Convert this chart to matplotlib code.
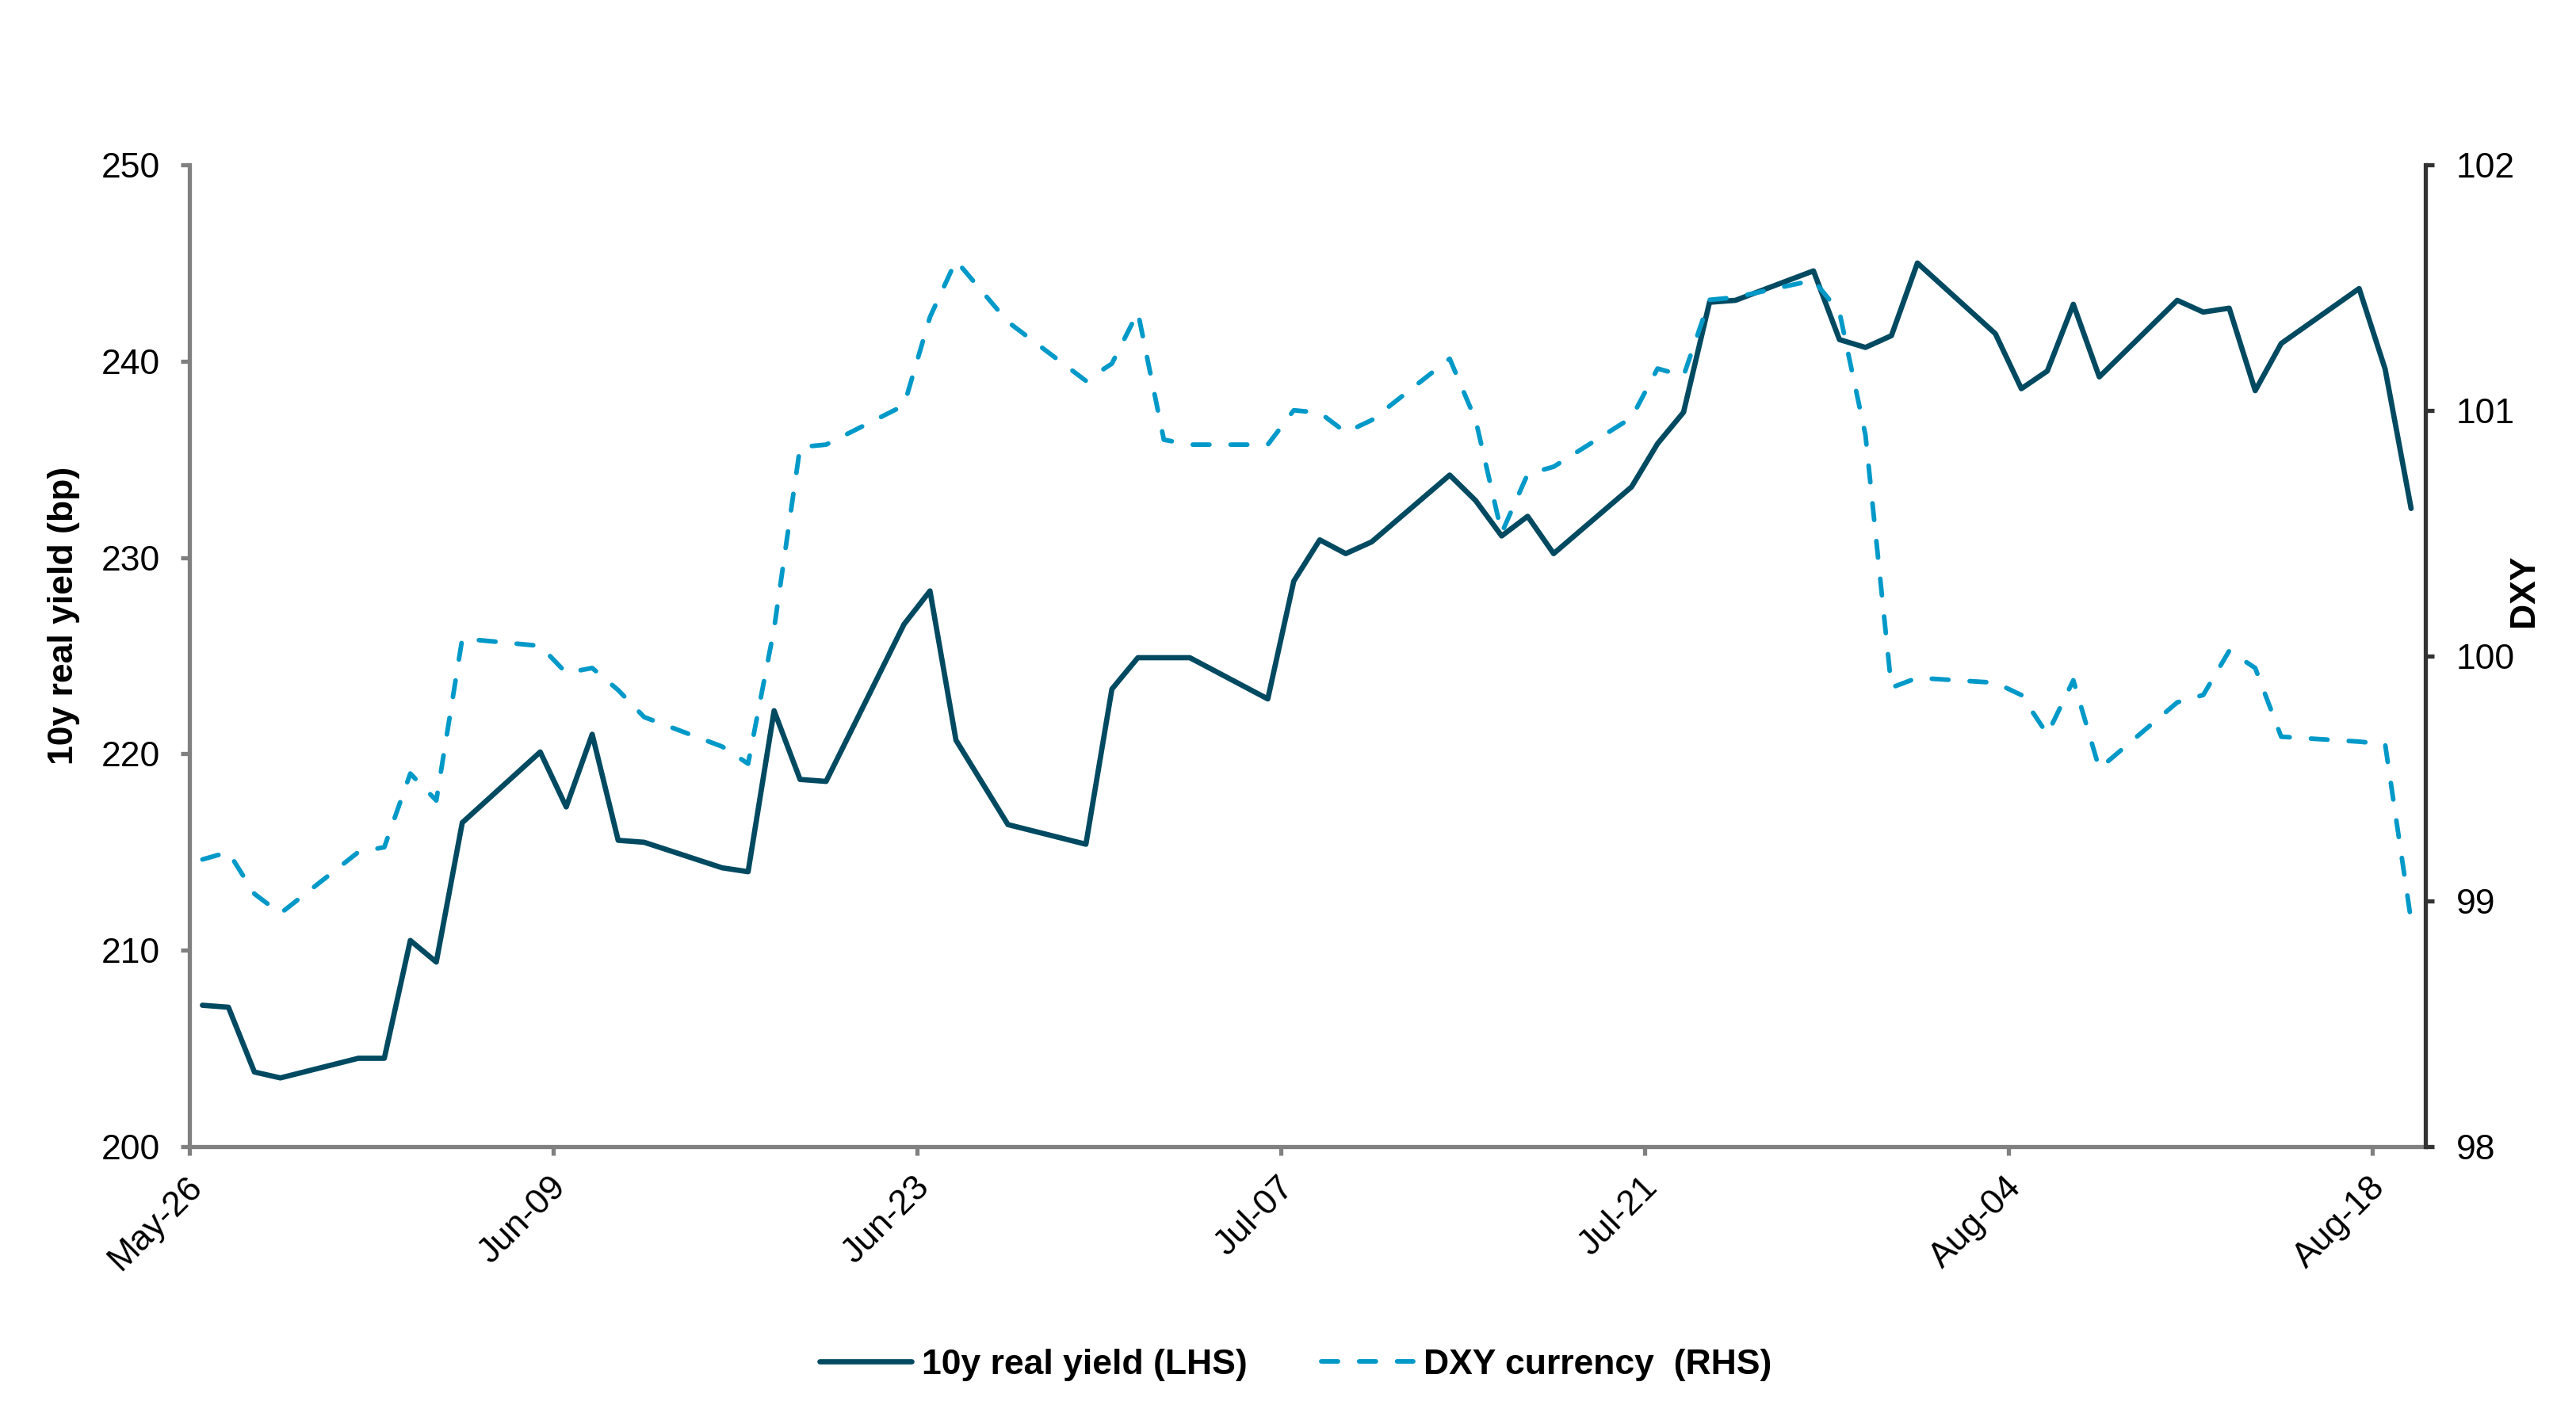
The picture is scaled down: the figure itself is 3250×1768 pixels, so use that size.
import numpy as np
import pandas as pd
import matplotlib
matplotlib.use("Agg")
from matplotlib import pyplot as plt
import matplotlib.dates as mdates
import matplotlib.transforms as mtransforms

plt.rcParams['font.family'] = ['Liberation Sans', 'DejaVu Sans']

# business days shown in the chart (2025)
dates = [
    "2025-05-27", "2025-05-28", "2025-05-29", "2025-05-30",
    "2025-06-02", "2025-06-03", "2025-06-04", "2025-06-05", "2025-06-06",
    "2025-06-09", "2025-06-10", "2025-06-11", "2025-06-12", "2025-06-13",
    "2025-06-16", "2025-06-17", "2025-06-18", "2025-06-19", "2025-06-20",
    "2025-06-23", "2025-06-24", "2025-06-25", "2025-06-27",
    "2025-06-30", "2025-07-01", "2025-07-02", "2025-07-03", "2025-07-04",
    "2025-07-07", "2025-07-08", "2025-07-09", "2025-07-10", "2025-07-11",
    "2025-07-14", "2025-07-15", "2025-07-16", "2025-07-17", "2025-07-18",
    "2025-07-21", "2025-07-22", "2025-07-23", "2025-07-24", "2025-07-25",
    "2025-07-28", "2025-07-29", "2025-07-30", "2025-07-31", "2025-08-01",
    "2025-08-04", "2025-08-05", "2025-08-06", "2025-08-07", "2025-08-08",
    "2025-08-11", "2025-08-12", "2025-08-13", "2025-08-14", "2025-08-15",
    "2025-08-18", "2025-08-19", "2025-08-20",
]

real_yield = [
    207.2, 207.1, 203.8, 203.5,
    204.5, 204.5, 210.5, 209.4, 216.5,
    220.1, 217.3, 221.0, 215.6, 215.5,
    214.2, 214.0, 222.2, 218.7, 218.6,
    226.6, 228.3, 220.7, 216.4,
    215.4, 223.3, 224.9, 224.9, 224.9,
    222.8, 228.8, 230.9, 230.2, 230.8,
    234.2, 232.9, 231.1, 232.1, 230.2,
    233.6, 235.8, 237.4, 243.0, 243.1,
    244.6, 241.1, 240.7, 241.3, 245.0,
    241.4, 238.6, 239.5, 242.9, 239.2,
    243.1, 242.5, 242.7, 238.5, 240.9,
    243.7, 239.6, 232.5,
]

dxy = [
    99.17, 99.20, 99.03, 98.95,
    99.20, 99.22, 99.52, 99.41, 100.07,
    100.04, 99.93, 99.95, 99.86, 99.75,
    99.63, 99.56, 100.11, 100.85, 100.86,
    101.02, 101.38, 101.61, 101.36,
    101.12, 101.19, 101.40, 100.88, 100.86,
    100.86, 101.00, 100.99, 100.91, 100.96,
    101.21, 100.96, 100.50, 100.74, 100.77,
    100.97, 101.17, 101.14, 101.45, 101.46,
    101.53, 101.40, 100.90, 99.87, 99.91,
    99.89, 99.84, 99.68, 99.90, 99.54,
    99.81, 99.84, 100.02, 99.95, 99.67,
    99.65, 99.64, 98.92,
]

tick_dates = ["2025-05-26", "2025-06-09", "2025-06-23", "2025-07-07",
              "2025-07-21", "2025-08-04", "2025-08-18"]

left_ticks = [200, 210, 220, 230, 240, 250]
right_ticks = [98, 99, 100, 101, 102]

C_REAL = "#004a61"
C_DXY = "#0099c8"
C_GREY = "#808080"

W, H, DPI = 3250, 1768, 200
fig = plt.figure(figsize=(W / DPI, H / DPI), dpi=DPI)

x0, x1, y0, y1 = 239, 3060, 208, 1447
ax = fig.add_axes([x0 / W, 1 - y1 / H, (x1 - x0) / W, (y1 - y0) / H])
ax2 = ax.twinx()

# points sit half a day before their date tick, as in the source chart
x = mdates.date2num(pd.to_datetime(dates)) - 0.5
xt = mdates.date2num(pd.to_datetime(tick_dates))

l1, = ax.plot(x, real_yield, color=C_REAL, lw=2.4,
              solid_joinstyle='round', solid_capstyle='round',
              label="10y real yield (LHS)")
l2, = ax2.plot(x, dxy, color=C_DXY, lw=2.1, linestyle=(0, (3.6, 4.6)),
               dash_capstyle='round', dash_joinstyle='round',
               label="DXY currency  (RHS)")

ax.set_xlim(xt[0], xt[0] + 86.05)
ax.set_ylim(200, 250)
ax2.set_ylim(98, 102)
ax.set_yticks(left_ticks)
ax2.set_yticks(right_ticks)
ax.set_xticks(xt)
ax.set_xticklabels([pd.Timestamp(d).strftime("%b-%d") for d in tick_dates],
                   rotation=45, ha='right')

for s in ["top", "right"]:
    ax.spines[s].set_visible(False)
for s in ["top", "left", "bottom"]:
    ax2.spines[s].set_visible(False)
for s in ["left", "bottom"]:
    ax.spines[s].set_color(C_GREY)
    ax.spines[s].set_linewidth(1.9)
ax2.spines["right"].set_color("#333333")
ax2.spines["right"].set_linewidth(1.9)

ax.tick_params(axis='y', direction='out', length=4, width=1.9,
               color=C_GREY, labelsize=16, pad=9.5)
ax.tick_params(axis='x', direction='out', length=4, width=1.9,
               color=C_GREY, labelsize=16, pad=7)
ax2.tick_params(axis='y', direction='out', length=4, width=1.9,
                color="#333333", labelsize=16, pad=10)

offset = mtransforms.ScaledTranslation(24 / DPI, 0, fig.dpi_scale_trans)
for lab in ax.get_xticklabels():
    lab.set_transform(lab.get_transform() + offset)

ax.set_ylabel("10y real yield (bp)", fontsize=16, fontweight='bold')
ax.yaxis.set_label_coords(-0.0489, 0.541)
ax2.set_ylabel("DXY", fontsize=16, fontweight='bold')
ax2.yaxis.set_label_coords(1.037, 0.566)

fig.legend(handles=[l1, l2], loc='center', bbox_to_anchor=(0.503, 0.026),
           ncol=2, frameon=False, handlelength=2.6, handletextpad=0.3,
           columnspacing=2.1, prop={'weight': 'bold', 'size': 16})

fig.savefig("out.png", dpi=DPI)
